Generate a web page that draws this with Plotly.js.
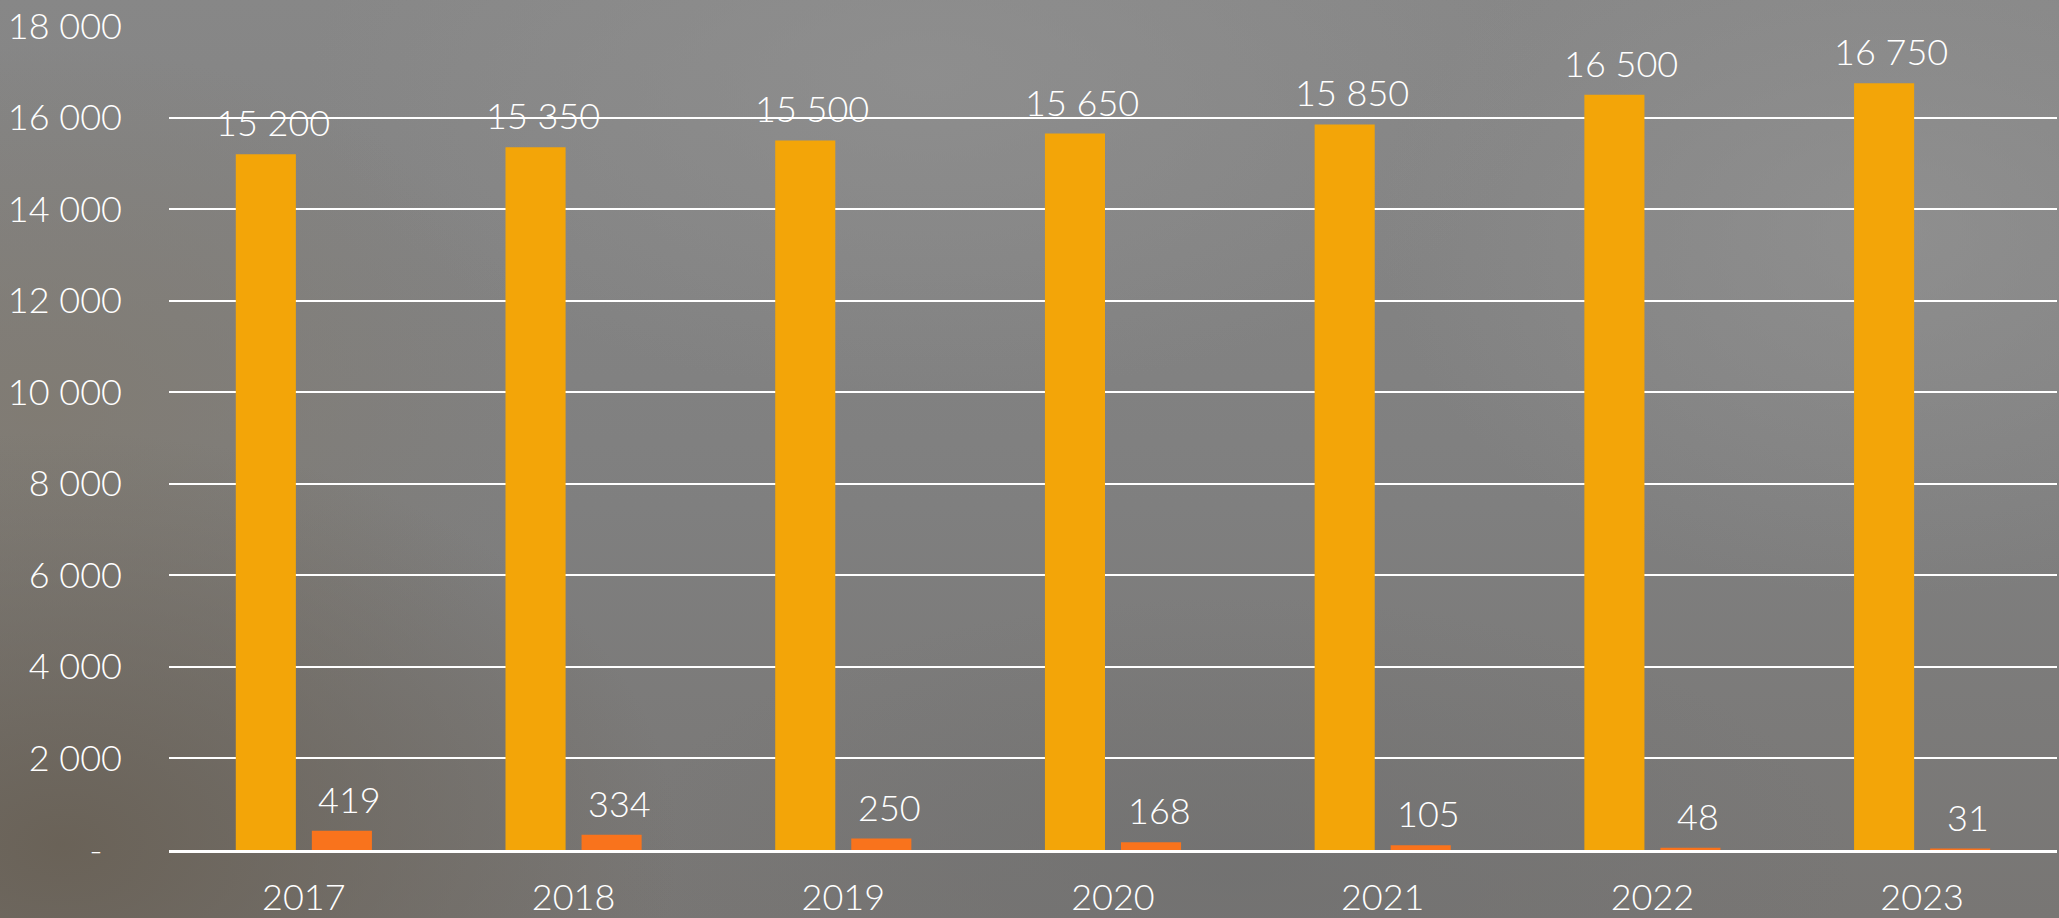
<!DOCTYPE html>
<html>
<head>
<meta charset="utf-8">
<script src="https://cdn.plot.ly/plotly-3.0.1.min.js"></script>
<style>
  html, body { margin: 0; padding: 0; }
  body {
    width: 2059px; height: 918px; overflow: hidden;
    background:
      radial-gradient(ellipse 30% 45% at 3% 92%, rgba(105,97,86,0.95) 0%, rgba(105,97,86,0) 100%),
      radial-gradient(ellipse 25% 40% at 2% 45%, rgba(128,122,112,0.8) 0%, rgba(128,122,112,0) 100%),
      radial-gradient(ellipse 30% 35% at 45% 8%, rgba(145,145,145,0.7) 0%, rgba(145,145,145,0) 100%),
      radial-gradient(ellipse 25% 40% at 92% 25%, rgba(150,150,150,0.6) 0%, rgba(150,150,150,0) 100%),
      radial-gradient(ellipse 30% 30% at 60% 95%, rgba(112,112,112,0.7) 0%, rgba(112,112,112,0) 100%),
      linear-gradient(180deg, #878787 0%, #7f7f7f 55%, #787674 100%);
  }
  #chart { width: 2059px; height: 918px; }
</style>
</head>
<body>
<div id="chart"></div>
<script>
// ---- data ----
const years = ["2017", "2018", "2019", "2020", "2021", "2022", "2023"];
const seriesA = [15200, 15350, 15500, 15650, 15850, 16500, 16750];
const seriesB = [419, 334, 250, 168, 105, 48, 31];
const labelsA = ["15 200", "15 350", "15 500", "15 650", "15 850", "16 500", "16 750"];
const labelsB = ["419", "334", "250", "168", "105", "48", "31"];
const yTickVals = [0, 2000, 4000, 6000, 8000, 10000, 12000, 14000, 16000, 18000];
const yTickText = ["-\u00a0\u00a0", "2 000", "4 000", "6 000", "8 000", "10 000", "12 000", "14 000", "16 000", "18 000"];

// ---- style ----
const GOLD = "#F3A508";
const ORANGE = "#F9731C";
const FONT = { family: "Lato, 'Open Sans', sans-serif", size: 36, color: "#ffffff", weight: 300 };

const traces = [
  { type: "bar", x: years, y: seriesA, marker: { color: GOLD }, hoverinfo: "skip" },
  { type: "bar", x: years, y: seriesB, marker: { color: ORANGE }, hoverinfo: "skip" }
];

const annotations = [];
years.forEach((yr, i) => {
  annotations.push({ x: i, y: seriesA[i], xref: "x", yref: "y", text: labelsA[i],
    showarrow: false, xshift: -31, yshift: 32, yanchor: "middle", font: FONT });
  annotations.push({ x: i, y: seriesB[i], xref: "x", yref: "y", text: labelsB[i],
    showarrow: false, xshift: 46, yshift: 32, yanchor: "middle", font: FONT });
});

const layout = {
  width: 2059, height: 918,
  margin: { l: 169, r: 2, t: 26, b: 68, pad: 0 },
  paper_bgcolor: "rgba(0,0,0,0)",
  plot_bgcolor: "rgba(0,0,0,0)",
  showlegend: false,
  barmode: "group",
  bargap: 0.436,
  bargroupgap: 0.21,
  font: FONT,
  xaxis: {
    type: "category",
    range: [-0.5, years.length - 0.5],
    autorange: false,
    showgrid: false,
    zeroline: false,
    showline: true, linecolor: "#ffffff", linewidth: 2.5,
    ticks: "",
    tickfont: FONT,
    ticklabelstandoff: 14,
    fixedrange: true
  },
  yaxis: {
    range: [0, 18000],
    autorange: false,
    tickvals: yTickVals,
    ticktext: yTickText,
    showgrid: true, gridcolor: "#ffffff", gridwidth: 2,
    zeroline: false,
    showline: false,
    ticks: "",
    tickfont: FONT,
    ticklabelstandoff: 46,
    fixedrange: true
  },
  annotations: annotations
};

Plotly.newPlot("chart", traces, layout, { displayModeBar: false, staticPlot: true });
</script>
</body>
</html>
